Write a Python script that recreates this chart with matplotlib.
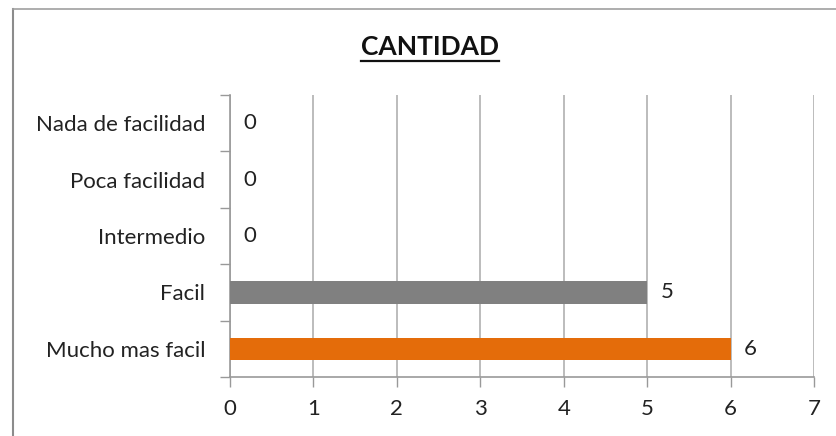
import matplotlib
matplotlib.use("Agg")
import matplotlib.pyplot as plt
from matplotlib.lines import Line2D

categories = ["Mucho mas facil", "Facil", "Intermedio", "Poca facilidad", "Nada de facilidad"]
values = [6, 5, 0, 0, 0]
bar_colors = ["#E46C0A", "#808080", "#808080", "#808080", "#808080"]
x_ticks = [0, 1, 2, 3, 4, 5, 6, 7]
title = "CANTIDAD"

plt.rcParams["font.family"] = ["Lato", "DejaVu Sans"]

fig = plt.figure(figsize=(8.36, 4.36), dpi=100)
ax = fig.add_axes([230 / 836, 1 - 377 / 436, 584 / 836, 282 / 436])

ypos = list(range(len(categories)))
ax.barh(ypos, values, height=0.4, color=bar_colors, zorder=3)

for y, v in zip(ypos, values):
    ax.annotate(str(v), xy=(v, y), xytext=(9.5, 0), textcoords="offset points",
                va="center", ha="left", fontsize=16, color="#222222")

ax.set_xlim(0, 7)
ax.set_ylim(-0.5, len(categories) - 0.5)
ax.set_xticks(x_ticks)
ax.set_xticklabels([str(t) for t in x_ticks], fontsize=16, color="#222222")
ax.set_yticks(ypos)
ax.set_yticklabels(categories, fontsize=16, color="#222222")
ax.set_yticks([i - 0.5 for i in range(len(categories) + 1)], minor=True)

ax.tick_params(axis="y", which="major", length=0, pad=18)
ax.tick_params(axis="y", which="minor", length=7, width=1, color="#999999", direction="out")
ax.tick_params(axis="x", which="major", length=7, width=1, color="#999999", direction="out", pad=9)

ax.grid(axis="x", color="#b0b0b0", linewidth=1.2, zorder=0)
for side in ("top", "right"):
    ax.spines[side].set_visible(False)
for side in ("left", "bottom"):
    ax.spines[side].set_color("#999999")
    ax.spines[side].set_linewidth(1.2)

t = fig.text(430 / 836, 1 - 47 / 436, title, ha="center", va="center",
             fontsize=19, fontweight="bold", color="#111111")

# outer frame on the left and top edges
fig.add_artist(Line2D([13 / 836, 13 / 836], [0, 1 - 9 / 436], transform=fig.transFigure,
                      color="#8c8c8c", linewidth=1.5))
fig.add_artist(Line2D([13 / 836, 1], [1 - 9 / 436, 1 - 9 / 436], transform=fig.transFigure,
                      color="#a0a0a0", linewidth=1.2))

# underline beneath the title
fig.canvas.draw()
bb = t.get_window_extent()
W, H = fig.bbox.width, fig.bbox.height
uy = (bb.y0 - 2) / H
fig.add_artist(Line2D([bb.x0 / W, bb.x1 / W], [uy, uy], transform=fig.transFigure,
                      color="#111111", linewidth=1.6))

fig.savefig("out.png", dpi=100)
